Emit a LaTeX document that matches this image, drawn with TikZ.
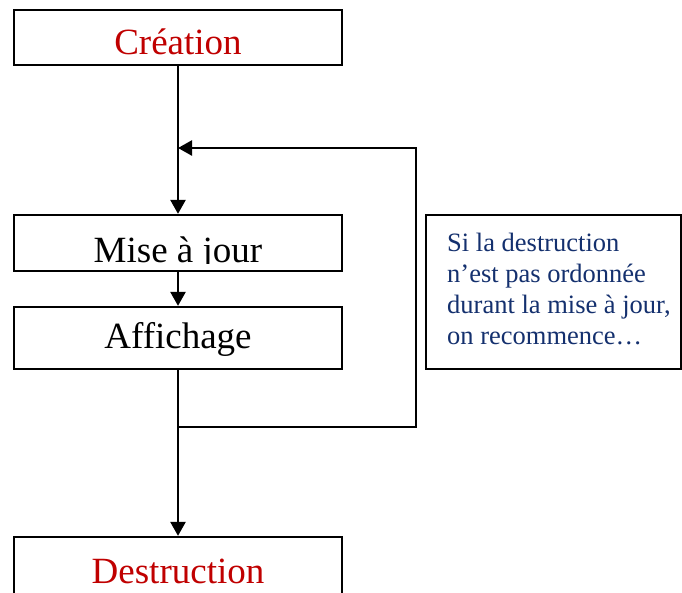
\documentclass[tikz,border=0pt]{standalone}
\usepackage{fontspec}
\setmainfont{Liberation Serif}
\usetikzlibrary{arrows.meta}
\definecolor{titlered}{HTML}{C00000}
\definecolor{notenavy}{HTML}{14306E}
\tikzset{
  box/.style={draw=black, line width=2.3pt, fill=white, minimum width=328pt, inner sep=0pt},
  bigtxt/.style={font=\fontsize{37}{40}\selectfont, inner sep=0pt, anchor=base},
  notetxt/.style={font=\fontsize{26.5}{31}\selectfont, text=notenavy, inner sep=0pt, anchor=base west},
  conn/.style={line width=2.5pt, -{Triangle[length=14pt,width=15pt]}},
  plain/.style={line width=2.5pt}
}
\begin{document}
\begin{tikzpicture}[x=1pt,y=-1pt]
\clip (0,0) rectangle (682,592);
\fill[white] (0,0) rectangle (682,592);
% boxes
\node[box, minimum height=55pt] (crea) at (178,37.5) {};
\node[box, minimum height=56pt] (maj) at (178,243) {};
\node[box, minimum height=62pt] (aff) at (178,338) {};
\node[box, minimum height=80pt] (dest) at (178,577) {};
\node[draw=black, line width=2.3pt, inner sep=0pt, minimum width=255pt, minimum height=154pt] (note) at (553.5,292) {};
% texts
\node[bigtxt, text=titlered] (tcrea) at (178,54) {Création};
\begin{scope}
\clip (20,220) rectangle (336,263);
\node[bigtxt] (tmaj) at (178,262) {Mise à jour};
\end{scope}
\node[bigtxt] (taff) at (178,348) {Affichage};
\node[bigtxt, text=titlered] (tdest) at (178,583) {Destruction};
\node[notetxt] (n1) at (447,251.5) {Si la destruction};
\node[notetxt] (n2) at (447,282) {n’est pas ordonnée};
\node[notetxt] (n3) at (447,313) {durant la mise à jour,};
\node[notetxt] (n4) at (447,344) {on recommence…};
% connectors
\coordinate (split) at (178,427);
\coordinate (c1) at (416,427);
\coordinate (c2) at (416,148);
\coordinate (back) at (178,148);
\draw[plain] (crea.south) -- (back);
\draw[conn] (back) -- (maj.north);
\draw[conn] (maj.south) -- (aff.north);
\draw[conn] (aff.south) -- (dest.north);
\draw[conn] (split) -- (c1) -- (c2) -- (back);
\end{tikzpicture}
\end{document}
